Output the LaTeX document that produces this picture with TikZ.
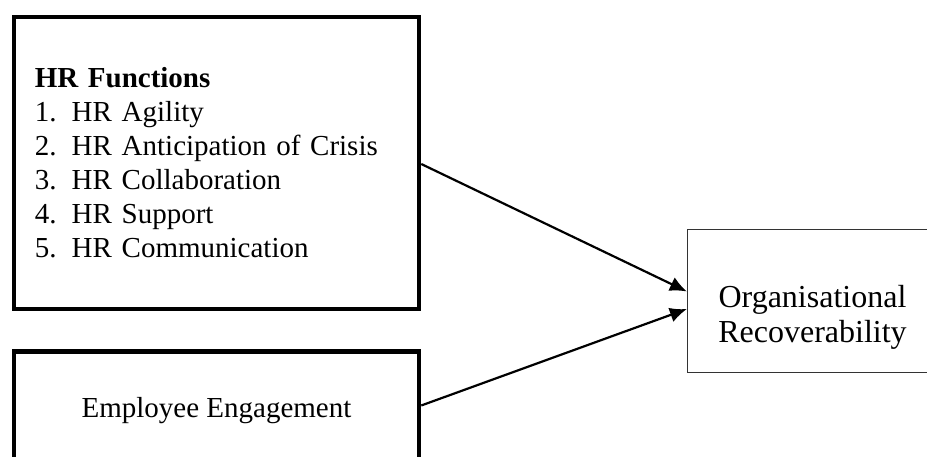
\documentclass[tikz,border=0pt]{standalone}
\usepackage{fontspec}
\setmainfont{Liberation Serif}
\usepackage{tikz}
\usetikzlibrary{arrows.meta,positioning}
\newcommand{\listnum}[1]{\makebox[37pt][l]{#1.}}

\begin{document}
\begin{tikzpicture}[
    x=1pt, y=-1pt,
    box/.style={rectangle, draw=black, line width=4.5pt, font=\fontsize{29}{34}\selectfont, inner sep=0pt},
    outbox/.style={rectangle, draw=black!80, line width=1.2pt, font=\fontsize{32}{35}\selectfont,
                   align=center, minimum width=250pt, minimum height=143pt},
    arr/.style={-{Latex[length=17pt, width=15pt]}, line width=2.2pt}
  ]
  \useasboundingbox (0,0) rectangle (927,457);
  \clip (0,0) rectangle (927,457);

  \node[box, inner xsep=20.75pt, text width=363.5pt, align=left, minimum height=292pt] (hrbox) at (216.5,163)
    {\textbf{HR Functions}\\
     \listnum{1}HR Agility\\
     \listnum{2}HR Anticipation of Crisis\\
     \listnum{3}HR Collaboration\\
     \listnum{4}HR Support\\
     \listnum{5}HR Communication};
  \node[box, minimum width=405pt, minimum height=118.5pt] (engbox) at (216.5,410.5) {Employee Engagement};
  % box runs out past the right edge
  \node[outbox] (recbox) at (812.5,301) {\rule{0pt}{54pt}Organisational\\Recoverability};

  \draw[arr] ([yshift=-1pt]hrbox.east) -- ([yshift=9.5pt]recbox.west);
  \draw[arr] ([yshift=5pt]engbox.east) -- ([yshift=-8pt]recbox.west);
\end{tikzpicture}
\end{document}
